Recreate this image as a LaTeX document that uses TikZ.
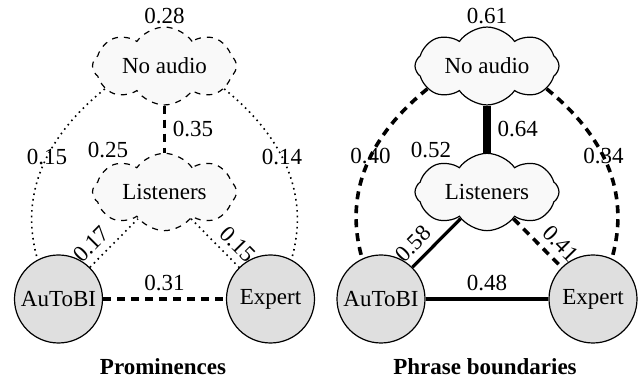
\documentclass[tikz,border=0pt]{standalone}
\usepackage{fontspec}
\setmainfont{Liberation Serif}
\usetikzlibrary{shapes.symbols}
\tikzset{
  cloudbox/.style={cloud, cloud puffs=8, cloud puff arc=110, aspect=2.2, draw, fill=gray!5,
    minimum width=72pt, minimum height=33pt, inner sep=1pt, line width=0.6pt},
  judge/.style={circle, draw, fill=gray!25, minimum size=44pt, inner sep=0pt,
    line width=0.6pt},
  weaklink/.style={dotted, line width=0.8pt},
  dashlink/.style={line width=1.8pt, dash pattern=on 4pt off 3pt},
  solidlink/.style={line width=1.6pt},
  heavylink/.style={line width=4pt}
}
\begin{document}
\begin{tikzpicture}[x=0.5pt,y=0.5pt,font=\fontsize{11.5}{13}\selectfont]
  \useasboundingbox (0,0) rectangle (643,385);
  % prominences
  \node[cloudbox, dashed] (pna) at (164.5,319) {No audio};
  \node[cloudbox, dashed] (pli) at (164.5,193) {Listeners};
  \node[judge] (pau) at (58.5,86) {AuToBI};
  \node[judge] (pex) at (270.5,86) {Expert};
  \node (pnaval) at (164.5,369) {0.28};
  \node (plival) at (108,235) {0.25};
  \node[font=\fontsize{11.5}{13}\selectfont\bfseries] (ptitle) at (163,18) {Prominences};
  \draw[dashlink] (pna) -- node[right] {0.35} (pli);
  \draw[weaklink] (pna.201) to[out=219,in=106] node[pos=0.45] {0.15} (pau.118);
  \draw[weaklink] (pna.-21) to[out=-39,in=74] node[pos=0.45] {0.14} (pex.62);
  \draw[weaklink] (pau) -- node[sloped,above,near start] {0.17} (pli);
  \draw[weaklink] (pli) -- node[sloped,above,near end] {0.15} (pex);
  \draw[dashlink] (pau) -- node[above] {0.31} (pex);
  % phrase boundaries
  \node[cloudbox] (bna) at (487,319) {No audio};
  \node[cloudbox] (bli) at (487,193) {Listeners};
  \node[judge] (bau) at (381,86) {AuToBI};
  \node[judge] (bex) at (593,86) {Expert};
  \node (bnaval) at (487,369) {0.61};
  \node (blival) at (431,235) {0.52};
  \node[font=\fontsize{11.5}{13}\selectfont\bfseries] (btitle) at (485,18) {Phrase boundaries};
  \draw[heavylink] (bna) -- node[right] {0.64} (bli);
  \draw[dashlink] (bna.201) to[out=219,in=106] node[pos=0.45] {0.40} (bau.115);
  \draw[dashlink] (bna.-21) to[out=-39,in=74] node[pos=0.45] {0.34} (bex.65);
  \draw[solidlink] (bau) -- node[sloped,above,near start] {0.58} (bli);
  \draw[dashlink] (bli) -- node[sloped,above,near end] {0.41} (bex);
  \draw[solidlink] (bau) -- node[above] {0.48} (bex);
\end{tikzpicture}
\end{document}
